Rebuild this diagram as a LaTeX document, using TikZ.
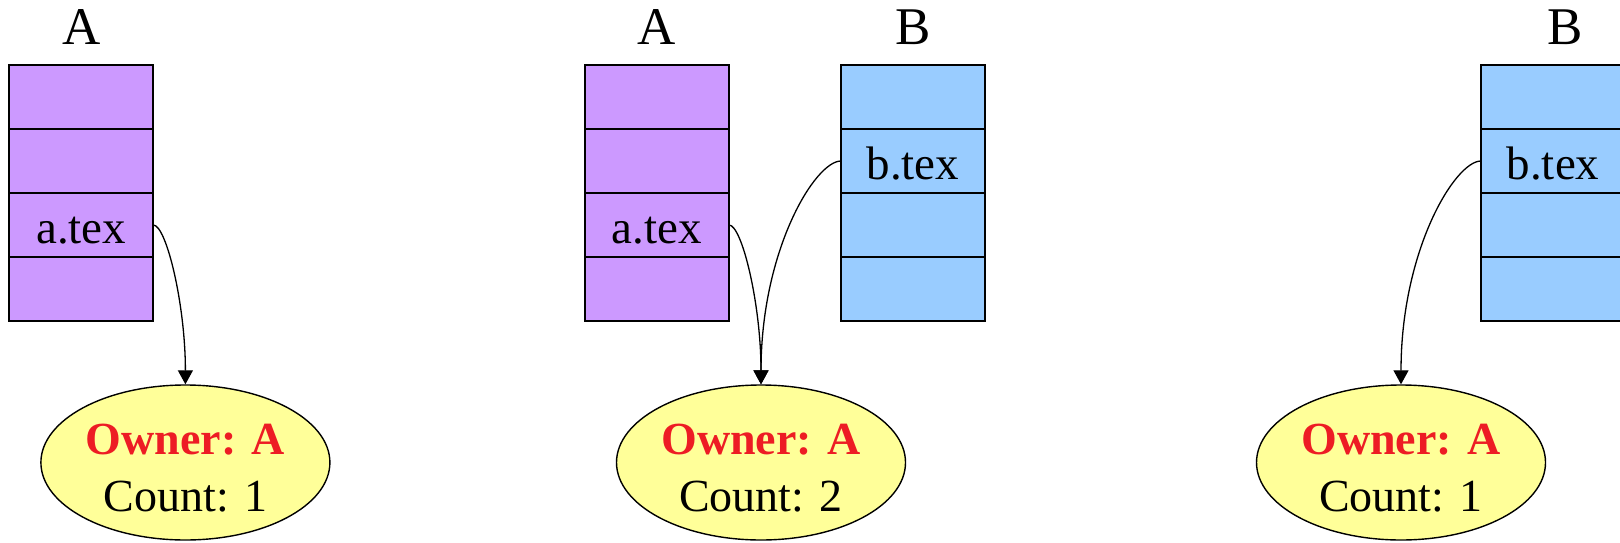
\documentclass[tikz,border=0pt]{standalone}
\usepackage{fontspec}
\setmainfont{Liberation Serif}
\usetikzlibrary{positioning, shapes.geometric, arrows.meta}
\definecolor{slotpurple}{RGB}{204,153,255}
\definecolor{slotblue}{RGB}{153,204,255}
\definecolor{inodeyellow}{RGB}{255,255,153}
\definecolor{ownerred}{RGB}{237,28,36}

\begin{document}
\begin{tikzpicture}[>={Triangle[length=7pt,width=7.5pt]},
    cell/.style={draw, line width=1pt, minimum width=72pt, minimum height=32pt,
        inner sep=0pt, outer sep=0pt, text height=18pt, text depth=0pt,
        font=\fontsize{23.5}{28}\selectfont},
    title/.style={inner sep=0pt, font=\fontsize{26.5}{32}\selectfont},
    inode/.style={draw, ellipse, fill=inodeyellow, line width=0.7pt,
        minimum width=144.5pt, minimum height=77.5pt, inner sep=0pt,
        align=center, text height=48.5pt, text depth=0pt,
        font=\fontsize{23}{28.5}\selectfont},
    link/.style={->, line width=0.65pt}]
    \useasboundingbox (0,0) rectangle (810pt,271pt);

    % Left panel: process A opens a.tex
    \node[cell, fill=slotpurple] (a1) at (40.65pt,222.5pt) {};
    \node[cell, fill=slotpurple, below=0pt of a1] (a2) {};
    \node[cell, fill=slotpurple, below=0pt of a2] (a3) {a.tex};
    \node[cell, fill=slotpurple, below=0pt of a3] (a4) {};
    \node[title, above=10pt of a1] (ta) {A};
    \node[inode] (f1) at (92.7pt,39.75pt) {\textbf{\color{ownerred}Owner: A}\\Count: 1};
    \draw[link] (a3.east) .. controls +(6.5pt,0) and +(0,40pt) .. (f1.north);

    % Middle panel: A and B share the file
    \node[cell, fill=slotpurple] (ma1) at (328.5pt,222.5pt) {};
    \node[cell, fill=slotpurple, below=0pt of ma1] (ma2) {};
    \node[cell, fill=slotpurple, below=0pt of ma2] (ma3) {a.tex};
    \node[cell, fill=slotpurple, below=0pt of ma3] (ma4) {};
    \node[title, above=10pt of ma1] (tma) {A};

    \node[cell, fill=slotblue] (mb1) at (456.5pt,222.5pt) {};
    \node[cell, fill=slotblue, below=0pt of mb1] (mb2) {b.tex};
    \node[cell, fill=slotblue, below=0pt of mb2] (mb3) {};
    \node[cell, fill=slotblue, below=0pt of mb3] (mb4) {};
    \node[title, above=10pt of mb1] (tmb) {B};

    \node[inode] (f2) at (380.5pt,39.75pt) {\textbf{\color{ownerred}Owner: A}\\Count: 2};
    \draw[link] (ma3.east) .. controls +(6.5pt,0) and +(0,40pt) .. (f2.north);
    \draw[link] (mb2.west) .. controls +(-13pt,0) and +(0,67pt) .. (f2.north);

    % Right panel: only B is left
    \node[cell, fill=slotblue] (b1) at (776.5pt,222.5pt) {};
    \node[cell, fill=slotblue, below=0pt of b1] (b2) {b.tex};
    \node[cell, fill=slotblue, below=0pt of b2] (b3) {};
    \node[cell, fill=slotblue, below=0pt of b3] (b4) {};
    \node[title, above=10pt of b1, xshift=6pt] (tb) {B};
    \node[inode] (f3) at (700.5pt,39.75pt) {\textbf{\color{ownerred}Owner: A}\\Count: 1};
    \draw[link] (b2.west) .. controls +(-13pt,0) and +(0,67pt) .. (f3.north);
\end{tikzpicture}
\end{document}
